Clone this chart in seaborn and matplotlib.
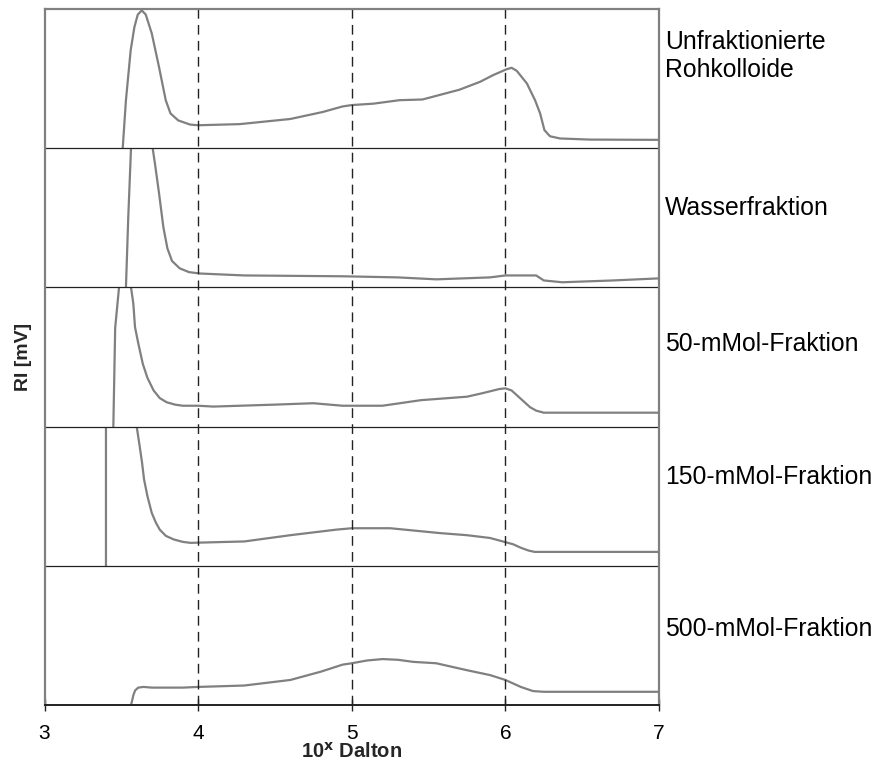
import numpy as np
import pandas as pd
import seaborn as sns
import matplotlib.pyplot as plt
from matplotlib.patches import Rectangle

# Molmassenverteilung (GPC) der Fraktionen, x = log10(Dalton), y = RI relativ zur Bandhoehe
labels = ['Unfraktionierte\nRohkolloide', 'Wasserfraktion', '50-mMol-Fraktion',
          '150-mMol-Fraktion', '500-mMol-Fraktion']

x_roh = [3.509, 3.53, 3.561, 3.585, 3.607, 3.633, 3.659, 3.698, 3.745, 3.789, 3.82, 3.87,
         3.947, 4.0, 4.27, 4.6, 4.81, 4.94, 5.0, 5.14, 5.31, 5.46, 5.70, 5.835, 5.92, 6.005,
         6.04, 6.074, 6.14, 6.193, 6.226, 6.254, 6.29, 6.356, 6.55, 7.0]
y_roh = [0.0, 0.345, 0.705, 0.87, 0.96, 0.99, 0.96, 0.825, 0.585, 0.345, 0.25, 0.20,
         0.17, 0.165, 0.173, 0.21, 0.26, 0.30, 0.31, 0.32, 0.345, 0.35, 0.42, 0.477, 0.525, 0.566,
         0.578, 0.556, 0.465, 0.345, 0.25, 0.13, 0.086, 0.07, 0.062, 0.06]

x_wasser = [3.53, 3.545, 3.563, 3.60, 3.64, 3.68, 3.704, 3.72, 3.745, 3.774, 3.80, 3.83,
            3.88, 3.94, 4.01, 4.3, 4.94, 5.3, 5.55, 5.9, 6.0, 6.2, 6.25, 6.37, 6.7, 7.0]
y_wasser = [0.0, 0.5, 1.0, 1.5, 1.6, 1.3, 1.0, 0.88, 0.68, 0.43, 0.28, 0.19,
            0.137, 0.11, 0.10, 0.086, 0.08, 0.072, 0.058, 0.072, 0.086, 0.086, 0.05, 0.037,
            0.05, 0.065]

x_50 = [3.448, 3.46, 3.485, 3.51, 3.54, 3.563, 3.578, 3.589, 3.61, 3.64, 3.67, 3.71, 3.75,
        3.795, 3.85, 3.90, 4.0, 4.1, 4.5, 4.75, 4.94, 5.2, 5.45, 5.75, 5.85, 5.96, 6.0, 6.04,
        6.08, 6.12, 6.16, 6.2, 6.25, 7.0]
y_50 = [0.0, 0.71, 1.0, 1.3, 1.3, 1.0, 0.885, 0.715, 0.60, 0.45, 0.35, 0.26, 0.205,
        0.175, 0.158, 0.15, 0.15, 0.144, 0.158, 0.168, 0.15, 0.15, 0.19, 0.215, 0.24, 0.27,
        0.275, 0.26, 0.22, 0.18, 0.14, 0.115, 0.10, 0.10]

x_150 = [3.40, 3.40, 3.50, 3.60, 3.62, 3.635, 3.648, 3.67, 3.698, 3.725, 3.75, 3.79, 3.84,
         3.90, 3.95, 4.3, 4.6, 4.9, 5.0, 5.25, 5.575, 5.75, 5.9, 6.0, 6.05, 6.1, 6.15, 6.19,
         7.0]
y_150 = [0.0, 1.6, 1.8, 1.0, 0.855, 0.74, 0.62, 0.50, 0.38, 0.31, 0.26, 0.215, 0.19,
         0.172, 0.165, 0.175, 0.22, 0.26, 0.27, 0.27, 0.235, 0.22, 0.20, 0.17, 0.155, 0.13,
         0.11, 0.10, 0.10]

x_500 = [3.563, 3.57, 3.578, 3.59, 3.61, 3.643, 3.7, 3.9, 4.0, 4.3, 4.6, 4.8, 4.94, 5.0,
         5.1, 5.2, 5.3, 5.4, 5.55, 5.75, 5.9, 6.0, 6.05, 6.1, 6.18, 6.25, 7.0]
y_500 = [0.0, 0.03, 0.07, 0.105, 0.125, 0.13, 0.125, 0.125, 0.13, 0.14, 0.18, 0.24, 0.29,
         0.30, 0.32, 0.33, 0.325, 0.31, 0.30, 0.25, 0.215, 0.18, 0.155, 0.13, 0.10, 0.095,
         0.095]

series = [(x_roh, y_roh), (x_wasser, y_wasser), (x_50, y_50), (x_150, y_150), (x_500, y_500)]
label_y = [4.66, 3.57, 2.595, 1.635, 0.545]

sns.set_theme(style='white')
plt.rcParams['font.family'] = ['Liberation Sans', 'DejaVu Sans']

fig = plt.figure(figsize=(8.78, 7.64), dpi=100)
ax = fig.add_axes([0.0507, 0.0772, 0.6999, 0.911])

n = len(series)
for i, (xs, ys) in enumerate(series):
    base = n - 1 - i  # oberste Kurve ganz oben
    df = pd.DataFrame({'x': xs, 'y': np.array(ys) + base})
    sns.lineplot(data=df, x='x', y='y', ax=ax, color='#808080', linewidth=1.6,
                 sort=False, estimator=None)
    line = ax.lines[-1]
    line.set_solid_joinstyle('round')
    # jede Kurve nur in ihrem eigenen Streifen sichtbar
    clip = Rectangle((3, base), 4, 1, transform=ax.transData)
    line.set_clip_path(clip)
    ax.text(1.01, label_y[i], labels[i], transform=ax.get_yaxis_transform(),
            fontsize=17.8, va='center', ha='left', color='black')

# Trennlinien zwischen den Streifen
for b in range(1, n):
    ax.axhline(b, color='#222222', linewidth=0.9)

# gestrichelte Hilfslinien
for xv in [4, 5, 6]:
    ax.axvline(xv, color='#222222', linewidth=1.0, linestyle=(0, (7, 4.5)))

ax.set_xlim(3, 7)
ax.set_ylim(0, n)
ax.set_xticks([3, 4, 5, 6, 7])
ax.set_xticklabels(['3', '4', '5', '6', '7'])
ax.set_yticks([])
ax.tick_params(axis='x', direction='inout', length=9, width=1.0, colors='#222222',
               labelsize=15, labelcolor='black', pad=9, bottom=True)

for s in ['left', 'right', 'top']:
    ax.spines[s].set_color('#808080')
    ax.spines[s].set_linewidth(1.6)
ax.spines['bottom'].set_color('#222222')
ax.spines['bottom'].set_linewidth(1.4)

ax.set_xlabel(r'10$^{\mathbf{x}}$ Dalton', fontsize=14.5, fontweight='bold')
ax.xaxis.set_label_coords(0.5, -0.052)
ax.set_ylabel('RI [mV]', fontsize=14, fontweight='bold')
ax.yaxis.set_label_coords(-0.021, 0.5)

fig.savefig('out.png', dpi=100)
